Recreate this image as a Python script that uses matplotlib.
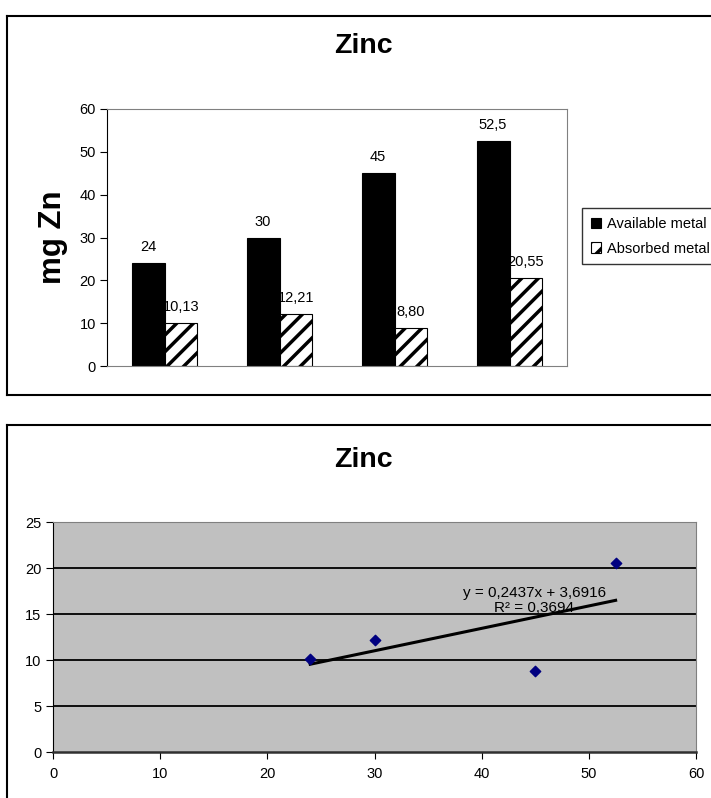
import numpy as np
import matplotlib
matplotlib.use("Agg")
import matplotlib.pyplot as plt
from matplotlib.lines import Line2D

plt.rcParams["font.family"] = ["Liberation Sans", "DejaVu Sans"]
plt.rcParams["hatch.linewidth"] = 2.5

# data
available = [24, 30, 45, 52.5]
absorbed = [10.13, 12.21, 8.80, 20.55]
available_labels = ["24", "30", "45", "52,5"]
absorbed_labels = ["10,13", "12,21", "8,80", "20,55"]
series_names = ["Available metal", "Absorbed metal"]
slope = 0.2437
intercept = 3.6916
eq_text = "y = 0,2437x + 3,6916\nR² = 0,3694"

W, H = 711, 798
fig = plt.figure(figsize=(W / 100, H / 100), dpi=100)


def fx(px):
    return px / W


def fy(py):
    return 1 - py / H


# outer chart boxes (Excel chart area borders)
for seg in [
    ((7, 7), (16, 395)),
    ((7, 720), (16, 16)),
    ((7, 720), (395, 395)),
    ((7, 7), (425, 800)),
    ((7, 720), (425, 425)),
]:
    fig.add_artist(Line2D([fx(seg[0][0]), fx(seg[0][1])], [fy(seg[1][0]), fy(seg[1][1])],
                          color="black", lw=1.5))

# ---- top: bar chart
ax1 = fig.add_axes([fx(107), fy(366), fx(567) - fx(107), fy(109) - fy(366)])
x = np.arange(len(available))
w = 0.285
b1 = ax1.bar(x - w / 2, available, w, color="black", edgecolor="black", lw=0.8,
             label=series_names[0])
b2 = ax1.bar(x + w / 2, absorbed, w, color="white", edgecolor="black", hatch="//",
             lw=0.8, label=series_names[1])
for bars, labs in [(b1, available_labels), (b2, absorbed_labels)]:
    for r, t in zip(bars, labs):
        ax1.annotate(t, (r.get_x() + r.get_width() / 2, r.get_height()),
                     xytext=(0, 9), textcoords="offset pixels",
                     ha="center", va="bottom", fontsize=10.5)
ax1.set_xlim(-0.5, 3.5)
ax1.set_ylim(0, 60)
ax1.set_yticks(range(0, 61, 10))
ax1.set_xticks([])
ax1.tick_params(axis="y", direction="out", length=5, labelsize=10.5, pad=3)
ax1.set_ylabel("mg Zn", fontsize=22.5, fontweight="bold", labelpad=8)
for s in ["top", "right", "bottom"]:
    ax1.spines[s].set_color("#808080")
ax1.spines["left"].set_color("black")
fig.text(fx(363), fy(46), "Zinc", ha="center", va="center", fontsize=20.5,
         fontweight="bold")
leg = fig.legend(handles=[b1, b2], loc="upper left",
                 bbox_to_anchor=(fx(582), fy(208)), frameon=True, fancybox=False,
                 edgecolor="black", fontsize=10.5, handlelength=0.7,
                 handleheight=0.7, handletextpad=0.4, borderpad=0.6,
                 labelspacing=0.75, borderaxespad=0)
leg.get_frame().set_linewidth(1.0)

# ---- bottom: scatter with trend line
ax2 = fig.add_axes([fx(53), fy(752), fx(696) - fx(53), fy(522) - fy(752)])
ax2.set_facecolor("#C0C0C0")
ax2.set_xlim(0, 60)
ax2.set_ylim(0, 25)
ax2.set_xticks(range(0, 61, 10))
ax2.set_yticks(range(0, 26, 5))
for yv in range(5, 25, 5):
    ax2.axhline(yv, color="black", lw=1.3, zorder=1)
ax2.scatter(available, absorbed, marker="D", s=28, color="#000080", zorder=3)
xl = np.array([min(available), max(available)])
ax2.plot(xl, slope * xl + intercept, color="black", lw=2.2, zorder=2)
ax2.text(44.9, 16.45, eq_text, ha="center", va="center", fontsize=11,
         linespacing=1.05, zorder=4)
ax2.tick_params(direction="out", length=5, labelsize=10.5)
ax2.tick_params(axis="x", pad=6)
for s in ["top", "right"]:
    ax2.spines[s].set_color("#808080")
ax2.spines["bottom"].set_color("#303030")
ax2.spines["bottom"].set_linewidth(1.8)
ax2.spines["left"].set_color("black")
fig.text(fx(363), fy(460), "Zinc", ha="center", va="center", fontsize=20.5,
         fontweight="bold")

fig.savefig("out.png", dpi=100)
